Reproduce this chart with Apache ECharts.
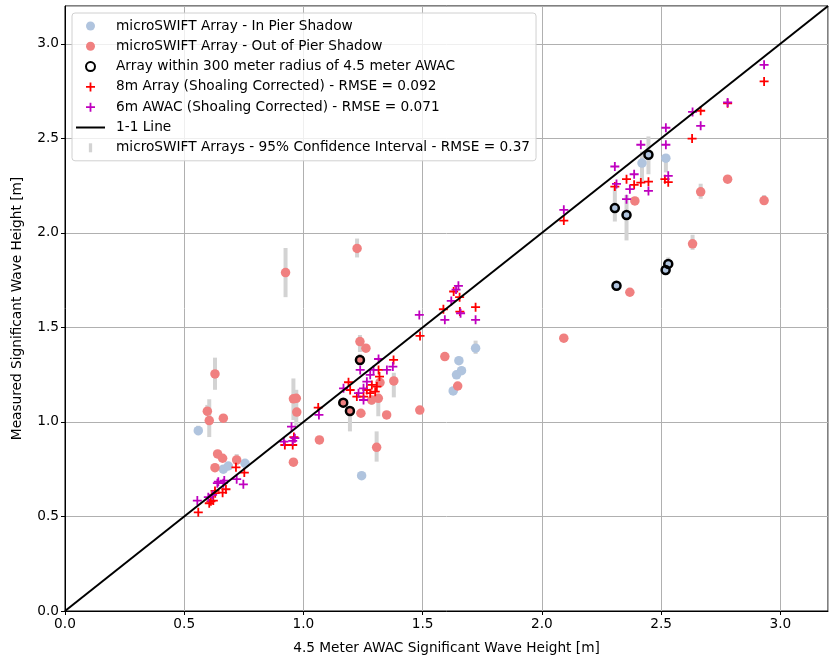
<!DOCTYPE html>
<html><head><meta charset="utf-8">
<script src="https://cdn.jsdelivr.net/npm/echarts@6/dist/echarts.min.js"></script>
<style>html,body{margin:0;padding:0;background:#fff}#c{width:833px;height:662px}</style>
</head><body><div id="c"></div>
<script>
// [awacHs, measuredHs, ciLow, ciHigh]
const inShadow = [
  [0.559,0.954,0.93,0.98],[0.664,0.750,0.74,0.76],[0.685,0.767,0.75,0.78],[0.755,0.781,0.77,0.80],
  [1.244,0.716,0.70,0.73],[1.652,1.324,1.31,1.34],[1.663,1.271,1.26,1.29],[1.642,1.249,1.23,1.26],
  [1.628,1.164,1.15,1.18],[1.722,1.390,1.36,1.43],[2.306,2.131,2.06,2.24],[2.355,2.095,1.96,2.20],
  [2.313,1.720,1.71,1.73],[2.420,2.369,2.27,2.43],[2.447,2.413,2.31,2.51],[2.520,2.395,2.32,2.40],
  [2.530,1.836,1.82,1.87],[2.519,1.804,1.78,1.82]
];
const outShadow = [
  [0.597,1.057,1.03,1.09],[0.605,1.007,0.92,1.12],[0.664,1.020,1.00,1.04],[0.629,1.254,1.17,1.34],
  [0.958,1.122,1.01,1.23],[0.970,1.125,0.98,1.17],[0.972,1.052,1.03,1.07],[1.067,0.905,0.89,0.92],
  [0.958,0.787,0.77,0.80],[0.640,0.831,0.82,0.84],[0.661,0.808,0.79,0.82],[0.629,0.758,0.74,0.77],
  [0.720,0.799,0.77,0.83],[0.925,1.790,1.66,1.92],[1.225,1.918,1.87,1.97],[1.237,1.425,1.37,1.46],
  [1.262,1.390,1.37,1.41],[1.237,1.328,1.30,1.36],[1.379,1.217,1.13,1.26],[1.488,1.063,1.05,1.08],
  [1.349,1.037,1.02,1.05],[1.307,0.866,0.79,0.95],[1.286,1.116,1.09,1.14],[1.314,1.125,1.03,1.15],
  [1.241,1.046,1.03,1.06],[1.167,1.102,1.08,1.12],[1.195,1.058,0.95,1.08],[1.321,1.208,1.19,1.23],
  [1.593,1.346,1.33,1.36],[1.647,1.190,1.17,1.21],[2.092,1.443,1.43,1.46],[2.369,1.686,1.67,1.70],
  [2.390,2.169,2.15,2.19],[2.632,1.942,1.91,1.99],[2.666,2.217,2.18,2.26],[2.779,2.284,2.27,2.30],
  [2.932,2.171,2.15,2.20]
];
const nearAwac = [
  [1.237,1.328],[1.167,1.102],[1.195,1.058],[2.306,2.131],[2.355,2.095],[2.313,1.720],
  [2.447,2.413],[2.530,1.836],[2.519,1.804]
];
const array8m = [
  [0.559,0.522],[0.605,0.570],[0.622,0.584],[0.630,0.623],[0.661,0.626],[0.675,0.644],[0.629,0.635],
  [0.612,0.580],[0.717,0.760],[0.752,0.732],
  [0.922,0.878],[0.955,0.878],[0.960,0.920],[1.062,1.076],
  [1.189,1.210],[1.224,1.134],[1.280,1.152],[1.301,1.160],[1.287,1.196],[1.308,1.187],[1.319,1.240],
  [1.315,1.275],[1.378,1.328],[1.196,1.169],[1.252,1.134],[1.266,1.169],
  [1.489,1.455],[1.587,1.596],[1.656,1.584],[1.722,1.607],[1.630,1.690],[1.655,1.660],
  [2.092,2.065],[2.306,2.245],[2.355,2.284],[2.387,2.254],[2.415,2.266],[2.447,2.271],[2.516,2.284],
  [2.530,2.268],[2.630,2.499],[2.666,2.646],[2.779,2.685],[2.932,2.801]
];
const awac6m = [
  [0.555,0.584],[0.601,0.602],[0.619,0.614],[0.639,0.676],[0.664,0.676],[0.643,0.684],[0.668,0.690],
  [0.720,0.697],[0.748,0.670],
  [0.918,0.896],[0.950,0.975],[0.964,0.914],[0.955,0.900],[1.065,1.037],
  [1.168,1.178],[1.231,1.152],[1.238,1.275],[1.252,1.178],[1.252,1.116],[1.294,1.275],[1.315,1.333],
  [1.350,1.275],[1.375,1.293],[1.266,1.213],[1.280,1.249],
  [1.486,1.566],[1.593,1.540],[1.659,1.575],[1.722,1.540],[1.620,1.640],[1.640,1.700],[1.650,1.720],
  [2.092,2.122],[2.306,2.351],[2.313,2.259],[2.387,2.310],[2.369,2.231],[2.355,2.178],[2.447,2.222],
  [2.415,2.466],[2.520,2.556],[2.520,2.466],[2.530,2.302],[2.632,2.640],[2.666,2.566],[2.779,2.690],
  [2.932,2.889]
];
const oneToOne = [[0,0],[3.2,3.2]];
const xTicks = [0,0.5,1.0,1.5,2.0,2.5,3.0];

const FONT = 'DejaVu Sans';
const FS = 13.7;
const PLUS = 'path://M4,0h2v4h4v2h-4v4h-2v-4h-4v-2h4z';
const ciData = inShadow.concat(outShadow).map(d => [d[0], d[2], d[3]]);
const names = ['microSWIFT Array - In Pier Shadow','microSWIFT Array - Out of Pier Shadow',
  'Array within 300 meter radius of 4.5 meter AWAC','8m Array (Shoaling Corrected) - RMSE = 0.092',
  '6m AWAC (Shoaling Corrected) - RMSE = 0.071','1-1 Line',
  'microSWIFT Arrays - 95% Confidence Interval - RMSE = 0.37'];

const chart = echarts.init(document.getElementById('c'), null, {renderer:'canvas'});
chart.setOption({
  animation:false,
  textStyle:{fontFamily:FONT},
  grid:{left:65,right:5,top:6,bottom:51,show:true,borderColor:'#000',borderWidth:1,backgroundColor:'transparent'},
  xAxis:{type:'value',min:0,max:3.2,interval:0.5,
    name:'4.5 Meter AWAC Significant Wave Height [m]',nameLocation:'middle',nameGap:30,
    nameTextStyle:{fontSize:FS,color:'#000',fontFamily:FONT},
    axisLine:{show:true,lineStyle:{color:'#000',width:1}},
    axisTick:{show:true,length:4,lineStyle:{color:'#000'}},
    axisLabel:{fontSize:FS,color:'#000',fontFamily:FONT,margin:6,showMaxLabel:false,
      formatter:v=>xTicks.some(t=>Math.abs(t-v)<1e-9)?v.toFixed(1):''},
    splitLine:{show:true,lineStyle:{color:'#b0b0b0',width:1}}},
  yAxis:{type:'value',min:0,max:3.2,interval:0.5,
    name:'Measured Significant Wave Height [m]',nameLocation:'middle',nameGap:41,
    nameTextStyle:{fontSize:FS,color:'#000',fontFamily:FONT},
    axisLine:{show:true,lineStyle:{color:'#000',width:1}},
    axisTick:{show:true,length:4,lineStyle:{color:'#000'}},
    axisLabel:{fontSize:FS,color:'#000',fontFamily:FONT,margin:6,showMaxLabel:false,
      formatter:v=>xTicks.some(t=>Math.abs(t-v)<1e-9)?v.toFixed(1):''},
    splitLine:{show:true,lineStyle:{color:'#b0b0b0',width:1}}},
  legend:{orient:'vertical',left:72,top:13,padding:[6,6,6,4],itemWidth:29,itemHeight:9,itemGap:6.3,
    backgroundColor:'rgba(255,255,255,0.8)',borderColor:'#d0d0d0',borderWidth:1,borderRadius:3,
    textStyle:{fontSize:FS,color:'#000',fontFamily:FONT,lineHeight:14,padding:[0,0,0,6]},
    data:[
      {name:names[0],icon:'circle'},{name:names[1],icon:'circle'},{name:names[2],icon:'circle'},
      {name:names[3],icon:PLUS},{name:names[4],icon:PLUS},
      {name:names[5],icon:'path://M0,0h29v2h-29z',itemStyle:{color:'#000'}},
      {name:names[6],icon:'path://M0,0h4v11h-4z'}]},
  series:[
    {name:names[6],type:'custom',z:1,data:ciData,itemStyle:{color:'#d3d3d3'},
      renderItem:(params,api)=>{
        const top=api.coord([api.value(0),api.value(2)]);
        const bot=api.coord([api.value(0),api.value(1)]);
        return {type:'rect',shape:{x:top[0]-2,y:top[1],width:4,height:bot[1]-top[1]},style:{fill:'#d3d3d3'}};
      }},
    {name:names[0],type:'scatter',z:2,data:inShadow.map(d=>[d[0],d[1]]),symbol:'circle',symbolSize:9.5,
      itemStyle:{color:'#b0c4de',opacity:1}},
    {name:names[1],type:'scatter',z:2,data:outShadow.map(d=>[d[0],d[1]]),symbol:'circle',symbolSize:9.5,
      itemStyle:{color:'#f08080',opacity:1}},
    {name:names[2],type:'scatter',z:3,data:nearAwac,symbol:'circle',symbolSize:8,
      itemStyle:{color:'rgba(0,0,0,0)',borderColor:'#000',borderWidth:2.5,opacity:1}},
    {name:names[3],type:'scatter',z:4,data:array8m,symbol:PLUS,symbolSize:9,
      itemStyle:{color:'#ff0000',opacity:1}},
    {name:names[4],type:'scatter',z:4,data:awac6m,symbol:PLUS,symbolSize:9,
      itemStyle:{color:'#bf00bf',opacity:1}},
    {name:names[5],type:'line',z:5,data:oneToOne,symbol:'none',showSymbol:false,
      lineStyle:{color:'#000',width:2},itemStyle:{color:'#000'}}
  ]
});
</script></body></html>
